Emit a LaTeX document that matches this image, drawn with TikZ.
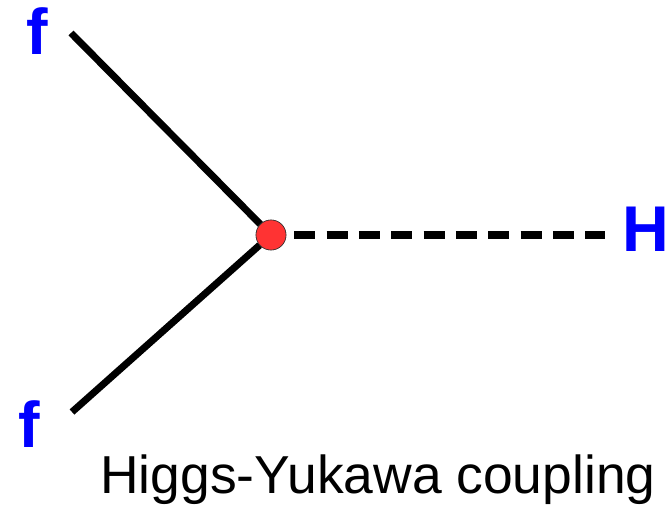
\documentclass[tikz,border=0pt]{standalone}
\usepackage{fontspec}
\setmainfont{Liberation Sans}
\usepackage{xcolor}
\definecolor{VertexRed}{RGB}{255, 51, 51}
\definecolor{LabelBlue}{RGB}{0, 0, 255}

\begin{document}
\begin{tikzpicture}[
    particle/.style={
        text=LabelBlue,
        inner sep=0pt,
        font=\fontsize{46}{50}\selectfont\bfseries
    },
    fermion/.style={
        line width=5pt
    },
    scalar/.style={
        line width=5pt,
        dash pattern=on 15pt off 8pt
    },
    vertex/.style={
        circle,
        draw=black!80,
        thin,
        fill=VertexRed,
        inner sep=0pt,
        minimum size=0.75cm
    }
]
\useasboundingbox (0,0) rectangle (16.775,12.7);

% Vertex
\node[vertex] (vtx) at (6.775,6.825) {};

% Outer line ends
\coordinate (fa) at (1.775,11.875);
\coordinate (fb) at (1.8,2.4);
\coordinate (hend) at (15.125,6.825);

% Lines
\draw[fermion] (fa) -- (vtx);
\draw[fermion] (fb) -- (vtx);
\draw[scalar] ([xshift=0.2cm]vtx.east) -- (hend);
\node[vertex] at (vtx) {};

% Labels
\node[particle] (ftop) at (0.925,11.925) {f};
\node[particle] (fbot) at (0.725,2.1) {f};
\node[particle] (higgs) at (16.15,6.975) {H};

% Caption
\node[anchor=base west, inner sep=0pt,
      font=\fontsize{38}{42}\selectfont] (caption) at (2.5,0.375)
      {Higgs-Yukawa coupling};

\end{tikzpicture}
\end{document}
